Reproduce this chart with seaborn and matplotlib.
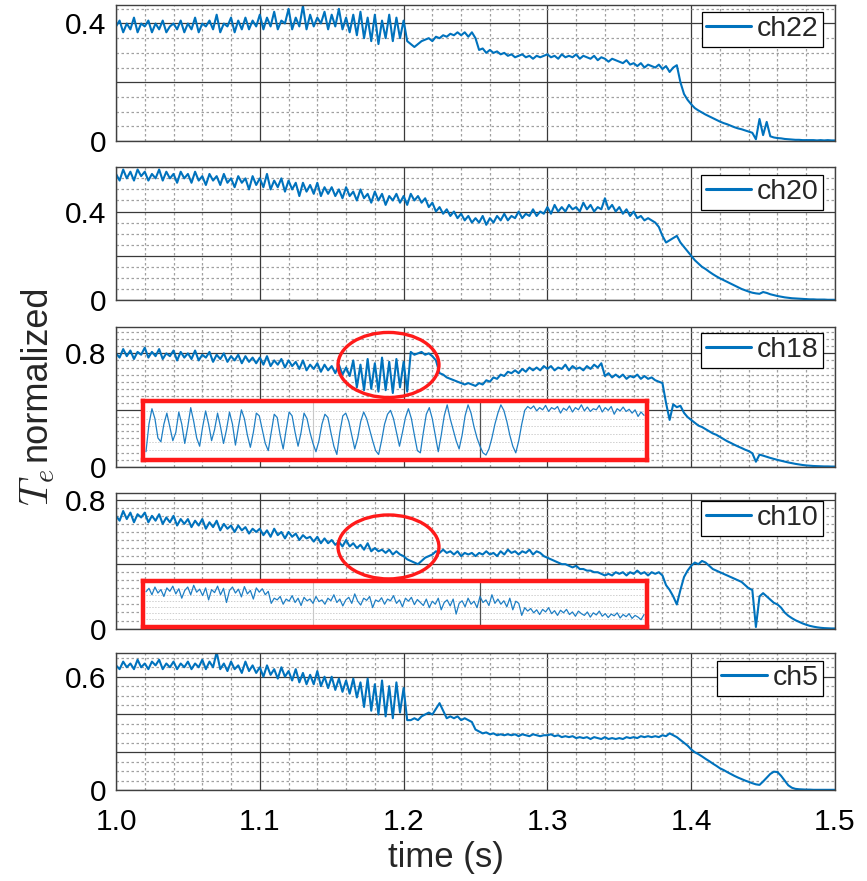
import numpy as np
import matplotlib
matplotlib.use("Agg")
import matplotlib.pyplot as plt
import seaborn as sns
from matplotlib.patches import Ellipse
from matplotlib.ticker import MultipleLocator

# sample times (s), one value every 2.5 ms
time = np.linspace(1.0, 1.5, 201)

ch22 = [0.39, 0.41, 0.37, 0.40, 0.38, 0.42, 0.37, 0.40, 0.39, 0.41, 0.37, 0.40, 0.38, 0.41, 0.37, 0.39, 0.40, 0.38, 0.41, 0.37,
        0.40, 0.38, 0.42, 0.37, 0.40, 0.39, 0.41, 0.38, 0.43, 0.37, 0.40, 0.39, 0.42, 0.37, 0.41, 0.38, 0.42, 0.38, 0.41, 0.39,
        0.43, 0.38, 0.42, 0.39, 0.44, 0.38, 0.41, 0.40, 0.45, 0.38, 0.42, 0.39, 0.46, 0.38, 0.43, 0.39, 0.42, 0.40, 0.44, 0.38,
        0.43, 0.39, 0.45, 0.38, 0.42, 0.37, 0.43, 0.36, 0.44, 0.35, 0.42, 0.34, 0.43, 0.33, 0.41, 0.35, 0.43, 0.34, 0.42, 0.35,
        0.41, 0.34, 0.33, 0.32, 0.33, 0.34, 0.345, 0.35, 0.34, 0.355, 0.35, 0.36, 0.355, 0.365, 0.36, 0.37, 0.36, 0.37, 0.355, 0.37,
        0.35, 0.31, 0.315, 0.30, 0.31, 0.30, 0.305, 0.295, 0.30, 0.29, 0.295, 0.285, 0.29, 0.295, 0.285, 0.29, 0.28, 0.29, 0.285, 0.29,
        0.295, 0.285, 0.29, 0.28, 0.295, 0.285, 0.29, 0.285, 0.295, 0.28, 0.29, 0.285, 0.28, 0.29, 0.275, 0.285, 0.28, 0.27, 0.28, 0.275,
        0.27, 0.265, 0.275, 0.26, 0.265, 0.255, 0.265, 0.25, 0.26, 0.255, 0.25, 0.26, 0.245, 0.255, 0.235, 0.25, 0.258, 0.20, 0.16, 0.14,
        0.125, 0.112, 0.104, 0.097, 0.09, 0.084, 0.078, 0.072, 0.066, 0.061, 0.057, 0.052, 0.047, 0.043, 0.04, 0.036, 0.032, 0.028, 0.006, 0.075,
        0.02, 0.065, 0.016, 0.012, 0.01, 0.009, 0.007, 0.006, 0.005, 0.004, 0.004, 0.003, 0.003, 0.003, 0.003, 0.002, 0.003, 0.002, 0.003, 0.002,
        0.002]

ch20 = [0.57, 0.54, 0.59, 0.55, 0.58, 0.54, 0.59, 0.56, 0.58, 0.54, 0.57, 0.55, 0.59, 0.54, 0.58, 0.55, 0.57, 0.53, 0.58, 0.55,
        0.57, 0.53, 0.58, 0.54, 0.56, 0.52, 0.57, 0.54, 0.56, 0.52, 0.57, 0.53, 0.55, 0.51, 0.56, 0.53, 0.55, 0.50, 0.56, 0.52,
        0.55, 0.51, 0.57, 0.50, 0.54, 0.51, 0.55, 0.49, 0.54, 0.50, 0.53, 0.47, 0.53, 0.49, 0.52, 0.48, 0.53, 0.47, 0.51, 0.48,
        0.51, 0.47, 0.50, 0.46, 0.51, 0.47, 0.49, 0.45, 0.50, 0.46, 0.48, 0.44, 0.49, 0.45, 0.48, 0.43, 0.47, 0.45, 0.48, 0.44,
        0.47, 0.43, 0.48, 0.45, 0.47, 0.44, 0.46, 0.42, 0.44, 0.40, 0.42, 0.39, 0.41, 0.38, 0.40, 0.37, 0.39, 0.36, 0.38, 0.35,
        0.37, 0.35, 0.38, 0.34, 0.37, 0.35, 0.38, 0.36, 0.39, 0.36, 0.38, 0.37, 0.40, 0.37, 0.39, 0.38, 0.41, 0.38, 0.40, 0.39,
        0.42, 0.39, 0.43, 0.40, 0.42, 0.40, 0.43, 0.41, 0.42, 0.40, 0.44, 0.41, 0.43, 0.40, 0.42, 0.41, 0.46, 0.41, 0.43, 0.40,
        0.42, 0.39, 0.41, 0.38, 0.40, 0.37, 0.38, 0.36, 0.37, 0.36, 0.35, 0.33, 0.29, 0.26, 0.27, 0.28, 0.29, 0.26, 0.24, 0.22,
        0.20, 0.18, 0.165, 0.15, 0.14, 0.128, 0.117, 0.107, 0.098, 0.09, 0.082, 0.074, 0.066, 0.058, 0.05, 0.044, 0.038, 0.033, 0.03, 0.028,
        0.036, 0.032, 0.026, 0.022, 0.018, 0.015, 0.012, 0.01, 0.008, 0.007, 0.006, 0.005, 0.004, 0.003, 0.003, 0.002, 0.002, 0.002, 0.001, 0.001,
        0.001]

ch18 = [0.80, 0.77, 0.83, 0.78, 0.82, 0.76, 0.81, 0.79, 0.84, 0.77, 0.81, 0.78, 0.83, 0.76, 0.80, 0.78, 0.82, 0.75, 0.81, 0.77,
        0.80, 0.76, 0.82, 0.75, 0.79, 0.77, 0.81, 0.74, 0.79, 0.76, 0.80, 0.74, 0.78, 0.75, 0.79, 0.73, 0.78, 0.74, 0.77, 0.73,
        0.77, 0.72, 0.78, 0.71, 0.75, 0.72, 0.76, 0.70, 0.75, 0.71, 0.74, 0.69, 0.75, 0.68, 0.72, 0.69, 0.73, 0.67, 0.72, 0.68,
        0.71, 0.66, 0.72, 0.65, 0.70, 0.64, 0.75, 0.56, 0.72, 0.54, 0.76, 0.55, 0.73, 0.53, 0.77, 0.54, 0.74, 0.52, 0.76, 0.56,
        0.74, 0.53, 0.81, 0.79, 0.80, 0.81, 0.79, 0.80, 0.78, 0.75, 0.66, 0.65, 0.63, 0.62, 0.61, 0.60, 0.59, 0.58, 0.59, 0.58,
        0.57, 0.59, 0.58, 0.61, 0.60, 0.63, 0.62, 0.65, 0.64, 0.67, 0.66, 0.68, 0.66, 0.69, 0.67, 0.70, 0.68, 0.70, 0.68, 0.71,
        0.69, 0.71, 0.68, 0.70, 0.69, 0.72, 0.68, 0.71, 0.69, 0.70, 0.68, 0.71, 0.69, 0.72, 0.70, 0.73, 0.64, 0.66, 0.63, 0.65,
        0.63, 0.65, 0.62, 0.64, 0.63, 0.65, 0.62, 0.64, 0.62, 0.63, 0.61, 0.60, 0.59, 0.45, 0.33, 0.44, 0.42, 0.43, 0.38, 0.35,
        0.33, 0.31, 0.29, 0.28, 0.265, 0.25, 0.235, 0.225, 0.21, 0.195, 0.18, 0.168, 0.155, 0.143, 0.132, 0.12, 0.11, 0.095, 0.035, 0.085,
        0.078, 0.07, 0.062, 0.055, 0.048, 0.042, 0.036, 0.03, 0.025, 0.02, 0.016, 0.012, 0.009, 0.007, 0.005, 0.004, 0.003, 0.002, 0.002, 0.001,
        0.001]

ch10 = [0.70, 0.67, 0.73, 0.68, 0.72, 0.66, 0.71, 0.69, 0.72, 0.66, 0.70, 0.67, 0.71, 0.65, 0.69, 0.66, 0.70, 0.64, 0.68, 0.65,
        0.68, 0.63, 0.67, 0.64, 0.68, 0.62, 0.66, 0.63, 0.67, 0.61, 0.65, 0.62, 0.64, 0.60, 0.64, 0.61, 0.63, 0.59, 0.62, 0.60,
        0.62, 0.58, 0.61, 0.57, 0.62, 0.58, 0.60, 0.56, 0.60, 0.57, 0.59, 0.55, 0.58, 0.56, 0.57, 0.54, 0.57, 0.53, 0.56, 0.53,
        0.55, 0.52, 0.54, 0.51, 0.55, 0.51, 0.53, 0.50, 0.52, 0.49, 0.53, 0.48, 0.50, 0.48, 0.49, 0.47, 0.49, 0.46, 0.48, 0.46,
        0.45, 0.43, 0.42, 0.41, 0.40, 0.42, 0.44, 0.45, 0.46, 0.48, 0.47, 0.49, 0.47, 0.48, 0.46, 0.48, 0.45, 0.47, 0.46, 0.47,
        0.45, 0.47, 0.46, 0.48, 0.46, 0.47, 0.45, 0.48, 0.46, 0.49, 0.47, 0.48, 0.46, 0.48, 0.47, 0.49, 0.46, 0.48, 0.47, 0.45,
        0.44, 0.43, 0.42, 0.41, 0.40, 0.40, 0.39, 0.38, 0.39, 0.37, 0.37, 0.36, 0.36, 0.35, 0.35, 0.34, 0.33, 0.34, 0.33, 0.35,
        0.34, 0.35, 0.33, 0.35, 0.34, 0.36, 0.34, 0.35, 0.33, 0.35, 0.34, 0.35, 0.33, 0.27, 0.24, 0.20, 0.15, 0.24, 0.32, 0.36,
        0.39, 0.41, 0.40, 0.42, 0.41, 0.39, 0.37, 0.36, 0.35, 0.34, 0.33, 0.32, 0.31, 0.30, 0.29, 0.27, 0.25, 0.24, 0.01, 0.20,
        0.22, 0.20, 0.18, 0.16, 0.15, 0.13, 0.10, 0.08, 0.065, 0.052, 0.042, 0.032, 0.024, 0.017, 0.012, 0.008, 0.005, 0.003, 0.002, 0.001,
        0.001]

ch5 = [0.66, 0.64, 0.68, 0.65, 0.67, 0.64, 0.69, 0.65, 0.67, 0.64, 0.68, 0.66, 0.69, 0.64, 0.67, 0.65, 0.68, 0.64, 0.67, 0.65,
       0.68, 0.64, 0.67, 0.65, 0.69, 0.64, 0.68, 0.65, 0.73, 0.64, 0.67, 0.63, 0.68, 0.64, 0.66, 0.62, 0.68, 0.63, 0.66, 0.62,
       0.65, 0.60, 0.66, 0.61, 0.64, 0.59, 0.65, 0.60, 0.63, 0.58, 0.64, 0.57, 0.62, 0.56, 0.61, 0.56, 0.63, 0.55, 0.60, 0.54,
       0.60, 0.53, 0.59, 0.52, 0.58, 0.51, 0.59, 0.49, 0.57, 0.44, 0.59, 0.42, 0.56, 0.40, 0.58, 0.39, 0.55, 0.38, 0.57, 0.41,
       0.54, 0.37, 0.37, 0.38, 0.37, 0.39, 0.40, 0.41, 0.40, 0.43, 0.46, 0.42, 0.38, 0.39, 0.38, 0.39, 0.37, 0.38, 0.37, 0.36,
       0.32, 0.31, 0.30, 0.305, 0.295, 0.30, 0.29, 0.295, 0.29, 0.295, 0.29, 0.295, 0.285, 0.295, 0.29, 0.285, 0.295, 0.29, 0.285, 0.29,
       0.29, 0.295, 0.285, 0.29, 0.28, 0.285, 0.28, 0.285, 0.275, 0.28, 0.275, 0.28, 0.27, 0.28, 0.275, 0.27, 0.28, 0.27, 0.275, 0.27,
       0.275, 0.27, 0.28, 0.275, 0.28, 0.275, 0.285, 0.28, 0.285, 0.28, 0.285, 0.28, 0.29, 0.285, 0.30, 0.29, 0.28, 0.265, 0.25, 0.235,
       0.215, 0.20, 0.19, 0.178, 0.165, 0.153, 0.14, 0.128, 0.115, 0.106, 0.095, 0.085, 0.075, 0.066, 0.058, 0.05, 0.043, 0.036, 0.03, 0.027,
       0.045, 0.065, 0.085, 0.097, 0.095, 0.075, 0.05, 0.025, 0.012, 0.006, 0.004, 0.003, 0.002, 0.002, 0.001, 0.001, 0.001, 0.001, 0.001, 0.001,
       0.001]

# zoomed-in traces shown inside the red boxes (normalised to the box height)
zoom18 = [0.10, 0.60, 0.88, 0.70, 0.35, 0.28, 0.60, 0.80, 0.55, 0.30, 0.45, 0.82, 0.60, 0.25, 0.55, 0.90, 0.65, 0.35, 0.20, 0.55,
          0.84, 0.60, 0.30, 0.50, 0.80, 0.55, 0.25, 0.50, 0.82, 0.60, 0.22, 0.55, 0.86, 0.70, 0.40, 0.18, 0.45, 0.80, 0.75, 0.50,
          0.25, 0.12, 0.45, 0.78, 0.72, 0.40, 0.15, 0.50, 0.82, 0.75, 0.45, 0.20, 0.45, 0.80, 0.70, 0.45, 0.25, 0.10, 0.30, 0.60,
          0.78, 0.72, 0.45, 0.20, 0.05, 0.45, 0.75, 0.80, 0.65, 0.40, 0.15, 0.35, 0.65, 0.82, 0.70, 0.50, 0.30, 0.12, 0.05, 0.30,
          0.60, 0.78, 0.85, 0.70, 0.45, 0.20, 0.45, 0.72, 0.88, 0.70, 0.40, 0.12, 0.08, 0.45, 0.78, 0.90, 0.70, 0.40, 0.10, 0.40,
          0.75, 0.95, 0.70, 0.50, 0.30, 0.15, 0.40, 0.75, 0.95, 0.80, 0.55, 0.35, 0.20, 0.08, 0.04, 0.15, 0.35, 0.60, 0.80, 0.95,
          0.85, 0.65, 0.40, 0.20, 0.08, 0.30, 0.60, 0.85, 0.92, 0.88, 0.93, 0.84, 0.90, 0.86, 0.94, 0.83, 0.90, 0.87, 0.92, 0.80,
          0.89, 0.85, 0.93, 0.82, 0.90, 0.86, 0.95, 0.84, 0.91, 0.83, 0.88, 0.86, 0.94, 0.82, 0.90, 0.85, 0.92, 0.78, 0.88, 0.84,
          0.91, 0.83, 0.87, 0.80, 0.86, 0.74, 0.82, 0.76]

zoom10 = [0.77, 0.85, 0.70, 0.88, 0.74, 0.82, 0.66, 0.86, 0.78, 0.90, 0.72, 0.84, 0.62, 0.80, 0.88, 0.70, 0.92, 0.76, 0.83, 0.68,
          0.86, 0.58, 0.82, 0.75, 0.90, 0.70, 0.85, 0.52, 0.80, 0.88, 0.74, 0.83, 0.65, 0.89, 0.72, 0.80, 0.60, 0.86, 0.76, 0.84,
          0.70, 0.78, 0.50, 0.62, 0.58, 0.66, 0.48, 0.60, 0.55, 0.68, 0.52, 0.62, 0.45, 0.64, 0.56, 0.60, 0.50, 0.66, 0.54, 0.58,
          0.48, 0.62, 0.56, 0.70, 0.52, 0.60, 0.44, 0.58, 0.64, 0.50, 0.72, 0.55, 0.46, 0.62, 0.57, 0.66, 0.40, 0.58, 0.54, 0.63,
          0.48, 0.60, 0.56, 0.68, 0.50, 0.58, 0.42, 0.62, 0.55, 0.64, 0.47, 0.59, 0.52, 0.45, 0.60, 0.40, 0.55, 0.48, 0.62, 0.35,
          0.52, 0.58, 0.44, 0.60, 0.25, 0.50, 0.56, 0.42, 0.62, 0.48, 0.55, 0.40, 0.66, 0.52, 0.58, 0.45, 0.70, 0.50, 0.60, 0.48,
          0.56, 0.42, 0.62, 0.35, 0.55, 0.50, 0.22, 0.40, 0.32, 0.38, 0.28, 0.35, 0.24, 0.36, 0.30, 0.40, 0.26, 0.33, 0.22, 0.34,
          0.28, 0.36, 0.24, 0.30, 0.20, 0.32, 0.26, 0.22, 0.30, 0.18, 0.28, 0.23, 0.32, 0.20, 0.26, 0.17, 0.25, 0.21, 0.28, 0.16,
          0.24, 0.19, 0.26, 0.15, 0.22, 0.18, 0.12, 0.24]

names = ["ch22", "ch20", "ch18", "ch10", "ch5"]
series = [ch22, ch20, ch18, ch10, ch5]
ymax = [0.464, 0.6, 0.988, 0.84, 0.724]
yticks = [[0, 0.2, 0.4], [0, 0.2, 0.4], [0, 0.4, 0.8], [0, 0.4, 0.8], [0, 0.2, 0.4, 0.6]]
ytick_labels = [["0", "", "0.4"], ["0", "", "0.4"], ["0", "", "0.8"], ["0", "", "0.8"], ["0", "", "", "0.6"]]
xticks = [1.0, 1.1, 1.2, 1.3, 1.4, 1.5]
xtick_labels = ["1.0", "1.1", "1.2", "1.3", "1.4", "1.5"]

sns.set_theme(style="white")
plt.rcParams["font.family"] = ["Liberation Sans", "DejaVu Sans"]
plt.rcParams["mathtext.fontset"] = "cm"

blue = "#0072BD"
W, H = 867, 881
fig = plt.figure(figsize=(W / 100, H / 100), dpi=100)

# panel boxes in pixels: top, bottom
boxes = [(4.7, 141), (167.3, 300), (326.7, 466.7), (493.3, 628.6), (653.3, 790)]
left_px, right_px = 116, 835
legend_right = [823, 823, 823, 823, 823]
legend_top = [12, 175, 333, 501, 661]

axes = []
for i, (top, bot) in enumerate(boxes):
    ax = fig.add_axes([left_px / W, 1 - bot / H, (right_px - left_px) / W, (bot - top) / H])
    sns.lineplot(x=time, y=series[i], ax=ax, color=blue, lw=1.5, label=names[i], errorbar=None)
    ax.set_xlim(1.0, 1.5)
    ax.set_ylim(0, ymax[i])
    ax.set_xticks(xticks)
    ax.xaxis.set_minor_locator(MultipleLocator(0.02))
    ax.set_yticks(yticks[i])
    ax.set_yticklabels(ytick_labels[i])
    ax.yaxis.set_minor_locator(MultipleLocator(0.05))
    ax.grid(which="major", color="#3a3a3a", lw=0.9, ls="-")
    ax.grid(which="minor", color="#a0a0a0", lw=0.9, ls=(0, (2, 2)))
    ax.set_axisbelow(True)
    for s in ax.spines.values():
        s.set_color("#404040")
        s.set_linewidth(1.0)
    ax.tick_params(which="both", direction="in", length=0, labelsize=21.5, colors="black")
    ax.tick_params(axis="y", pad=7)
    ax.tick_params(axis="x", pad=13)
    if i < 4:
        ax.set_xticklabels([])
    else:
        ax.set_xticklabels(xtick_labels)
    ax.set_xlabel("")
    ax.set_ylabel("")
    bx = 1 - (right_px - legend_right[i]) / (right_px - left_px)
    by = 1 - (legend_top[i] - top) / (bot - top)
    leg = ax.legend(loc="upper right", bbox_to_anchor=(bx, by), borderaxespad=0, fontsize=20.5,
                    handlelength=1.6, handletextpad=0.2, borderpad=0.15, fancybox=False, framealpha=1)
    leg.get_frame().set_edgecolor("black")
    leg.get_frame().set_linewidth(0.9)
    for h in leg.get_lines():
        h.set_linewidth(2.2)
    axes.append(ax)

# red ellipses around the oscillation window
axes[2].add_patch(Ellipse((1.1895, 0.718), 0.0702, 0.459, fill=False, ec="#ff1a1a", lw=2.4, zorder=5))
axes[3].add_patch(Ellipse((1.1895, 0.507), 0.0702, 0.397, fill=False, ec="#ff1a1a", lw=2.4, zorder=5))

# zoom boxes
zoom_boxes = [(143, 647, 401, 460), (143, 647, 581, 627)]
for trace, (x0, x1, y0, y1) in zip([zoom18, zoom10], zoom_boxes):
    ins = fig.add_axes([x0 / W, 1 - y1 / H, (x1 - x0) / W, (y1 - y0) / H])
    ins.set_facecolor("white")
    idx = np.arange(len(trace))
    for yy in [0.14, 0.28, 0.42, 0.56, 0.70, 0.84]:
        ins.axhline(yy, color="#cfcfcf", lw=0.7, ls=(0, (1.5, 1.5)), zorder=0)
    ins.axvline(len(trace) / 3, color="#c8c8c8", lw=0.8, zorder=0)
    ins.axvline(len(trace) * 2 / 3, color="#505050", lw=0.9, zorder=0)
    sns.lineplot(x=idx, y=trace, ax=ins, color="#1f7fc4", lw=0.9, errorbar=None)
    ins.set_xlim(-1, len(trace))
    ins.set_ylim(-0.05, 1.02)
    ins.set_xticks([])
    ins.set_yticks([])
    ins.set_xlabel("")
    ins.set_ylabel("")
    for s in ins.spines.values():
        s.set_color("#ff1a1a")
        s.set_linewidth(3.2)

fig.text(36 / W, 1 - 373 / H, "normalized", rotation=90, ha="center", va="center", fontsize=26)
fig.text(38 / W, 1 - 487 / H, "$T_e$", rotation=90, ha="center", va="center", fontsize=29)
fig.text(446 / W, 1 - 858 / H, "time (s)", ha="center", va="center", fontsize=25)

fig.savefig("out.png", dpi=100)
